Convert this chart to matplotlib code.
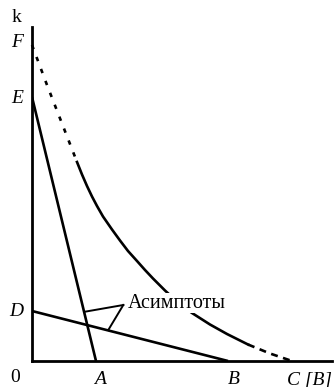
import matplotlib
matplotlib.use("Agg")
import matplotlib.pyplot as plt

plt.rcParams['font.family'] = ['Liberation Serif', 'DejaVu Serif']
plt.rcParams['lines.scale_dashes'] = False

# intercepts on the axes
E, A = 264, 64          # steep asymptote: k-axis at E, B-axis at A
D, B = 50, 196          # flat asymptote: k-axis at D, B-axis at B
F, C = 316, 260         # curve ends

# the curve, read point by point
curve_x = [0, 15, 30, 45, 50, 55, 60, 65, 71, 80, 88, 96, 105, 113, 121,
           133, 146, 160, 178, 195, 210, 216, 238, 260]
curve_y = [316, 276, 237.5, 199, 186.5, 175, 164.5, 155, 144.5, 131.5,
           120.5, 110, 100, 91, 82.5, 70.5, 58.5, 48, 36.5, 27, 19.5, 16.5,
           7.5, 0]
solid_from, solid_to = 3, 21   # indices where the solid part starts / ends

# leader lines of the "Асимптоты" note
note_xy = (91.3, 56)
note_ends = [(53, 49.3), (76.3, 31)]

fig = plt.figure(figsize=(3.34, 3.87), dpi=100)
ax = fig.add_axes([32 / 334, 26 / 387, 300 / 334, 334 / 387])
ax.set_xlim(0, 300)
ax.set_ylim(0, 334)
for s in ['top', 'right']:
    ax.spines[s].set_visible(False)
for s in ['left', 'bottom']:
    ax.spines[s].set_linewidth(2.0)
ax.set_xticks([])
ax.set_yticks([])

lw = 1.9
ax.plot([0, A], [E, 0], color='black', lw=lw, solid_capstyle='butt')
ax.plot([0, B], [D, 0], color='black', lw=lw, solid_capstyle='butt')

ax.plot(curve_x[:solid_from + 1], curve_y[:solid_from + 1], color='black',
        lw=lw, dashes=(3.2, 6.0), clip_on=False)
ax.plot(curve_x[solid_from:solid_to + 1], curve_y[solid_from:solid_to + 1],
        color='black', lw=lw)
ax.plot(curve_x[solid_to:], curve_y[solid_to:], color='black', lw=lw,
        dashes=(5.0, 4.0))

for ex, ey in note_ends:
    ax.plot([note_xy[0], ex], [note_xy[1], ey], color='black', lw=1.4)
ax.text(note_xy[0] + 4, note_xy[1] + 2, 'Асимптоты', fontsize=14.5,
        ha='left', va='center', zorder=5,
        bbox=dict(facecolor='white', edgecolor='none', pad=0.5))

lab = dict(fontsize=14, ha='center', va='center', clip_on=False)
ax.text(-15, 343, 'k', **lab)
ax.text(-15, F + 2, 'F', style='italic', **lab)
ax.text(-15, E - 2, 'E', style='italic', **lab)
ax.text(-16, D, 'D', style='italic', **lab)
ax.text(-17, -17, '0', **lab)
ax.text(A + 4, -18, 'A', style='italic', **lab)
ax.text(B + 6, -19, 'B', style='italic', **lab)
ax.text(C - 5, -19, 'C [B]', style='italic', fontsize=14, ha='left',
        va='center', clip_on=False)

fig.savefig('out.png', dpi=100)
